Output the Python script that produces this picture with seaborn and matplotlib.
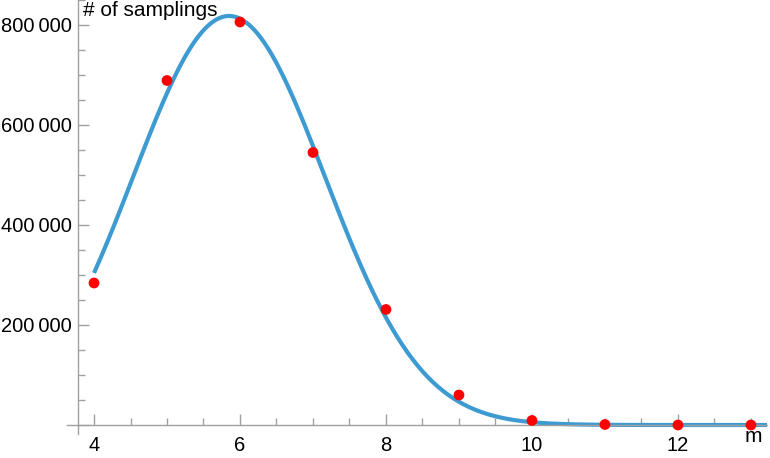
import numpy as np
import pandas as pd
import matplotlib
matplotlib.use("Agg")
import matplotlib.pyplot as plt
import seaborn as sns
from matplotlib.ticker import MultipleLocator, FuncFormatter

# Data
m_values = [4, 5, 6, 7, 8, 9, 10, 11, 12, 13]
samplings = [284000, 689000, 806000, 545000, 231000, 60000, 9000, 1000, 0, 0]

# Fitted Gaussian curve parameters (amplitude, mean, sd)
fit_amplitude = 818000
fit_mean = 5.85
fit_sd = 1.315
curve_range = [4.0, 13.22]

x_label = "m"
y_label = "# of samplings"

sns.set_theme(style="white")
plt.rcParams['font.family'] = ['Liberation Sans', 'DejaVu Sans']

fig = plt.figure(figsize=(7.7, 4.58), dpi=100)
ax = fig.add_axes([67 / 770, 1 - 434 / 458, 700 / 770, 434 / 458])

xc = np.linspace(curve_range[0], curve_range[1], 400)
yc = fit_amplitude * np.exp(-(xc - fit_mean) ** 2 / (2 * fit_sd ** 2))
curve_df = pd.DataFrame({"m": xc, "n": yc})
pts_df = pd.DataFrame({"m": m_values, "n": samplings})

sns.lineplot(data=curve_df, x="m", y="n", ax=ax, color="#3D9BD2", linewidth=3.0,
             zorder=2, solid_capstyle="butt")
sns.scatterplot(data=pts_df, x="m", y="n", ax=ax, color="#FF0000", s=60,
                edgecolor="none", zorder=3)

ax.set_xlim(3.63, 13.22)
ax.set_ylim(-18000, 850000)

for s in ["top", "right"]:
    ax.spines[s].set_visible(False)
ax.spines["left"].set_position(("data", 3.78))
ax.spines["bottom"].set_position(("data", 0))
for s in ["left", "bottom"]:
    ax.spines[s].set_color("#A0A0A0")
    ax.spines[s].set_linewidth(1.0)

ax.xaxis.set_major_locator(MultipleLocator(2))
ax.xaxis.set_minor_locator(MultipleLocator(0.5))
ax.yaxis.set_major_locator(MultipleLocator(200000))
ax.yaxis.set_minor_locator(MultipleLocator(50000))

def fmt_y(v, pos):
    v = int(round(v))
    if v == 0:
        return ""
    s = f"{v:,}".replace(",", "\u2009")
    return s

ax.yaxis.set_major_formatter(FuncFormatter(fmt_y))
ax.xaxis.set_major_formatter(FuncFormatter(lambda v, p: f"{int(round(v))}"))

fs = 14.5
ax.tick_params(axis="both", which="major", direction="in", length=8, width=1,
               color="#A0A0A0", labelsize=fs, labelcolor="black")
ax.tick_params(axis="both", which="minor", direction="in", length=5, width=1,
               color="#A0A0A0")
ax.tick_params(axis="x", which="major", pad=8)
ax.tick_params(axis="y", which="major", pad=4.5)
ax.tick_params(axis="both", which="both", bottom=True, left=True)

ax.set_xlabel("")
ax.set_ylabel("")
ax.text(3.845, 849000, y_label, fontsize=15, ha="left", va="top", color="black",
        clip_on=False)
ax.text(13.03, -24000, x_label, fontsize=15, ha="center", va="center", color="black",
        clip_on=False)

ax.grid(False)
fig.savefig("out.png", dpi=100)
